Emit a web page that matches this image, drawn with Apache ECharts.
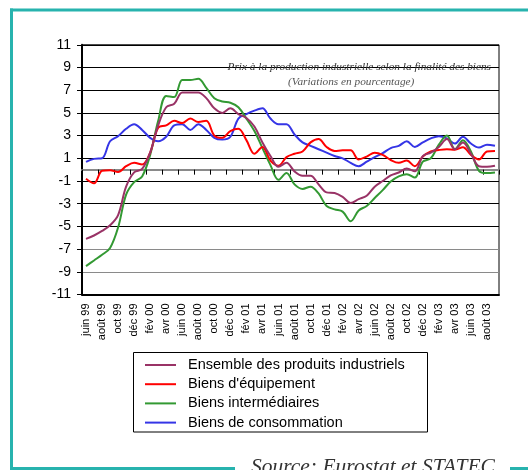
<!DOCTYPE html>
<html>
<head>
<meta charset="utf-8">
<script src="https://cdn.jsdelivr.net/npm/echarts@6/dist/echarts.min.js"></script>
<style>
html,body{margin:0;padding:0;background:#fff;}
#c{width:528px;height:470px;}
</style>
</head>
<body>
<div id="c"></div>
<script>
const months = ['juin 99','juil 99','août 99','sept 99','oct 99','nov 99','déc 99',
 'janv 00','fév 00','mars 00','avr 00','mai 00','juin 00','juil 00','août 00','sept 00','oct 00','nov 00','déc 00',
 'janv 01','fév 01','mars 01','avr 01','mai 01','juin 01','juil 01','août 01','sept 01','oct 01','nov 01','déc 01',
 'janv 02','fév 02','mars 02','avr 02','mai 02','juin 02','juil 02','août 02','sept 02','oct 02','nov 02','déc 02',
 'janv 03','fév 03','mars 03','avr 03','mai 03','juin 03','juil 03','août 03','sept 03'];

const seriesNames = ['Ensemble des produits industriels', "Biens d'équipement", 'Biens intermédiaires', 'Biens de consommation'];

const ensemble = [-6.1,-5.8,-5.4,-4.9,-4.0,-1.5,-0.24,0.06,1.5,3.9,5.5,5.8,6.8,6.8,6.8,6.3,5.4,5.0,5.4,4.9,4.55,3.8,2.4,1.2,0.25,0.6,-0.15,-0.53,-0.53,-1.3,-2.0,-2.06,-2.4,-2.94,-2.6,-2.3,-1.5,-1.0,-0.5,-0.25,0.1,-0.15,1.2,1.5,2.0,2.7,1.8,2.4,1.4,0.3,0.25,0.35];
const equipement = [-0.8,-1.2,-0.1,-0.05,-0.2,0.3,0.6,0.45,1.5,3.7,3.9,4.3,4.1,4.5,4.2,4.3,3.0,2.8,3.4,3.6,2.6,1.4,2.0,0.8,0.35,1.1,1.4,1.6,2.4,2.7,2.0,1.65,1.7,1.7,0.9,1.15,1.5,1.3,0.85,0.6,0.8,0.3,1.15,1.6,1.73,1.8,1.75,1.97,1.3,0.9,1.6,1.65];
const intermediaires = [-8.5,-8.0,-7.5,-6.9,-5.1,-2.2,-1.1,-0.6,1.3,4.3,6.5,6.4,7.9,7.9,8.0,7.2,6.3,6.0,5.9,5.5,4.5,3.4,1.9,0.4,-0.9,-0.3,-1.3,-1.7,-1.5,-2.1,-3.2,-3.5,-3.7,-4.55,-3.6,-3.2,-2.5,-1.8,-1.05,-0.6,-0.4,-0.7,0.7,1.0,2.2,3.0,1.8,2.6,1.6,-0.1,-0.3,-0.25];
const consommation = [0.68,0.95,1.0,2.5,2.95,3.6,4.0,3.5,2.8,2.5,2.9,3.9,4.0,3.5,4.0,3.5,2.8,2.65,2.9,4.5,4.9,5.2,5.4,4.5,4.0,4.0,3.1,2.4,2.1,1.8,1.5,1.2,1.0,0.6,0.3,0.7,1.1,1.45,1.9,2.1,2.5,2.0,2.4,2.75,2.95,2.75,2.3,2.9,2.3,1.95,2.2,2.1];

const colors = ['#993366', '#ff0000', '#339933', '#3535e6'];
const values = [ensemble, equipement, intermediaires, consommation];

const titleLine1 = 'Prix à la production industrielle selon la finalité des biens';
const titleLine2 = '(Variations en pourcentage)';
const sourceText = 'Source: Eurostat et STATEC';

const chart = echarts.init(document.getElementById('c'), null, {renderer: 'canvas'});
const teal = '#27b3ae';
const serif = '"Liberation Serif", "DejaVu Serif", serif';

const option = {
  animation: false,
  backgroundColor: '#ffffff',
  title: [
    {text: titleLine1, right: 37, top: 62, padding: 0,
     textStyle: {fontFamily: serif, fontStyle: 'italic', fontWeight: 'normal', fontSize: 11.3, color: '#333'}},
    {text: titleLine2, left: 288, top: 77, padding: 0,
     textStyle: {fontFamily: serif, fontStyle: 'italic', fontWeight: 'normal', fontSize: 11.3, color: '#555'}}
  ],
  grid: {left: 82, top: 44.8, width: 417, height: 249.7, show: true, borderColor: '#000', borderWidth: 1, backgroundColor: 'transparent', containLabel: false, outerBoundsMode: 'none'},
  legend: {
    orient: 'vertical', left: 145, top: 357, padding: 0, itemGap: 3.2,
    itemWidth: 31, itemHeight: 2, icon: 'rect',
    data: seriesNames,
    textStyle: {fontFamily: 'Arial, "Liberation Sans", sans-serif', fontSize: 14.5, color: '#000', lineHeight: 16, padding: [0, 0, 0, 7]}
  },
  xAxis: [
    {type: 'category', data: months, boundaryGap: true, position: 'bottom',
     axisLine: {onZero: false, lineStyle: {color: '#000', width: 2}},
     axisTick: {show: false},
     axisLabel: {interval: 1, rotate: 90, margin: 9, color: '#000', fontSize: 11, fontFamily: 'Arial, "Liberation Sans", sans-serif'},
     splitLine: {show: false}},
    {type: 'category', data: months, boundaryGap: true, position: 'top',
     axisLine: {onZero: true, lineStyle: {color: '#8a8a8a', width: 2}},
     axisTick: {show: true, inside: true, interval: 1, length: 5, lineStyle: {color: '#000', width: 1}},
     axisLabel: {show: false}, splitLine: {show: false}}
  ],
  yAxis: {
    type: 'value', min: -11, max: 11, interval: 2,
    axisLine: {show: true, onZero: false, lineStyle: {color: '#000', width: 2}},
    axisTick: {show: true, length: 5, lineStyle: {color: '#000'}},
    axisLabel: {margin: 11, color: '#000', fontSize: 14, fontFamily: 'Arial, "Liberation Sans", sans-serif'},
    splitLine: {show: true, lineStyle: {color: ['#000', '#8a8a8a', '#8a8a8a', '#000', '#000', '#000', '#000', '#000', '#000', '#000', '#000', '#000'], width: 1}}
  },
  series: seriesNames.map((n, k) => ({
    name: n, type: 'line', data: values[k], xAxisIndex: 0, smooth: 0.35,
    showSymbol: false, symbol: 'none', color: colors[k],
    lineStyle: {color: colors[k], width: 2}, z: 10 - k
  })),
  graphic: [
    {type: 'rect', shape: {x: 10, y: 8.5, width: 518, height: 3}, style: {fill: teal}, silent: true},
    {type: 'rect', shape: {x: 10, y: 8.5, width: 3, height: 461}, style: {fill: teal}, silent: true},
    {type: 'rect', shape: {x: 10, y: 467, width: 225, height: 3}, style: {fill: teal}, silent: true},
    {type: 'rect', shape: {x: 510, y: 467, width: 18, height: 3}, style: {fill: teal}, silent: true},
    {type: 'rect', shape: {x: 133.5, y: 352.5, width: 294, height: 79.5}, style: {fill: 'none', stroke: '#000', lineWidth: 1}, silent: true},
    {type: 'text', x: 251, y: 467.5, style: {text: sourceText, font: 'italic 21.5px ' + serif, fill: '#333', verticalAlign: 'middle', align: 'left'}, silent: true}
  ]
};
chart.setOption(option);
</script>
</body>
</html>
